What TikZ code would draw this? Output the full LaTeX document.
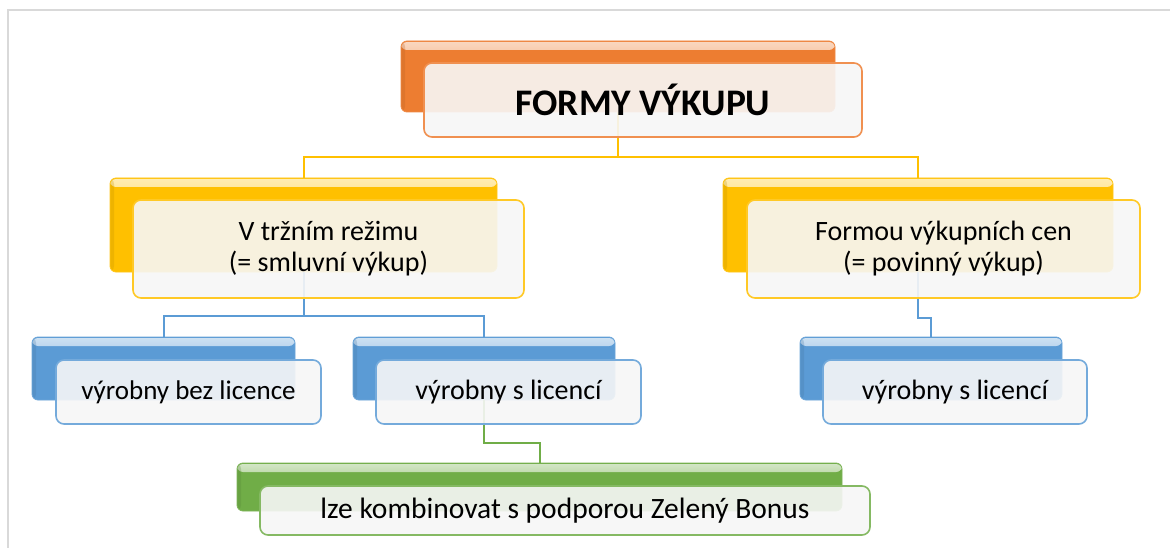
\documentclass[tikz,border=0pt]{standalone}
\usepackage{fontspec}
\setmainfont{Carlito}
\usetikzlibrary{calc,positioning}
\definecolor{formorange}{HTML}{ED7D31}
\definecolor{formgold}{HTML}{FFC000}
\definecolor{formblue}{HTML}{5B9BD5}
\definecolor{formgreen}{HTML}{70AD47}
\definecolor{framegray}{HTML}{D9D9D9}
\tikzset{
	backbox/.style={anchor=north west, rounded corners=6pt, draw=#1!90!white, line width=0.8pt,
		fill=#1, inner sep=0pt, outer sep=0pt,
		path picture={
			\shade[top color=#1!30!white, bottom color=#1]
				([yshift=-1pt]path picture bounding box.north west) rectangle ([yshift=-9pt]path picture bounding box.north east);
			\fill[#1!75!black, opacity=0.25]
				(path picture bounding box.north west) rectangle ([xshift=4pt]path picture bounding box.south west);
		}},
	frontbox/.style={anchor=north west, rounded corners=8pt, draw=#1!85!white, line width=1.6pt,
		fill=black!3, fill opacity=0.9, text opacity=1, inner sep=0pt, outer sep=0pt,
		align=center, font=\fontsize{28}{31}\selectfont},
	link/.style={draw=#1, line width=2pt}
}

\begin{document}
\begin{tikzpicture}[x=1pt, y=-1pt]
		\useasboundingbox[fill=white] (0,0) rectangle (1170,548);
		\draw[framegray, line width=1.5pt] (8,548) -- (8,10) -- (1170,10);
		%%%%%%% back boxes
		\node(topback)[backbox=formorange, minimum width=434pt, minimum height=71pt] at (401,41) {};
		\node(trhback)[backbox=formgold, minimum width=387pt, minimum height=94pt] at (110,178) {};
		\node(cenback)[backbox=formgold, minimum width=390pt, minimum height=94pt] at (723,178) {};
		\node(bezback)[backbox=formblue, minimum width=263pt, minimum height=63pt] at (32,337) {};
		\node(slicback)[backbox=formblue, minimum width=262pt, minimum height=63pt] at (353,337) {};
		\node(plicback)[backbox=formblue, minimum width=262pt, minimum height=63pt] at (800,337) {};
		\node(bonback)[backbox=formgreen, minimum width=605pt, minimum height=48pt] at (237,463) {};
		%%%%%%% connectors
		\draw[link=formgold] (topback.south) -- ++(0,45) -| (trhback.north);
		\draw[link=formgold] (topback.south) -- ++(0,45) -| (cenback.north);
		\draw[link=formblue] (trhback.south) -- ++(0,44) -| (bezback.north);
		\draw[link=formblue] (trhback.south) -- ++(0,44) -| (slicback.north);
		\draw[link=formblue] (cenback.south) -- ++(0,46) -| (plicback.north);
		\draw[link=formgreen] (slicback.south) -- ++(0,43) -| (bonback.north);
		%%%%%%% front boxes
		\node(top)[frontbox=formorange, minimum width=438pt, minimum height=74pt,
			font=\fontsize{37.5}{40}\selectfont\bfseries, below right=22pt and 23pt of topback.north west] {FORMY VÝKUPU};
		\node(trh)[frontbox=formgold, minimum width=391pt, minimum height=98pt,
			below right=22pt and 23pt of trhback.north west] {V tržním režimu\\(= smluvní výkup)};
		\node(cen)[frontbox=formgold, minimum width=393pt, minimum height=98pt,
			below right=22pt and 24pt of cenback.north west] {Formou výkupních cen\\(= povinný výkup)};
		%%%%%%%
		\node(bez)[frontbox=formblue, minimum width=265pt, minimum height=64pt,
			font=\fontsize{27}{30}\selectfont, below right=23pt and 24pt of bezback.north west] {výrobny bez licence};
		\node(slic)[frontbox=formblue, minimum width=265pt, minimum height=64pt,
			below right=23pt and 23pt of slicback.north west] {výrobny s licencí};
		\node(plic)[frontbox=formblue, minimum width=264pt, minimum height=64pt,
			below right=23pt and 23pt of plicback.north west] {výrobny s licencí};
		%%%%%%%
		\node(bon)[frontbox=formgreen, minimum width=610pt, minimum height=49pt,
			font=\fontsize{29.5}{32}\selectfont, below right=23pt and 23pt of bonback.north west] {lze kombinovat s podporou Zelený Bonus};
\end{tikzpicture}
\end{document}
